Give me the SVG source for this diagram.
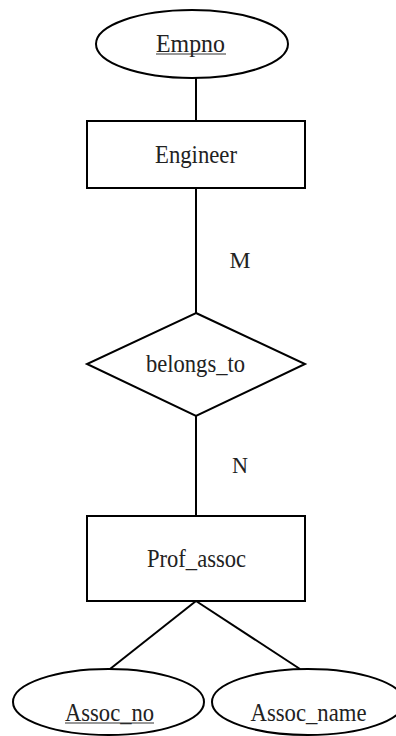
<svg xmlns="http://www.w3.org/2000/svg" width="396" height="736" viewBox="0 0 396 736">
  <style>
    .shape { fill: #ffffff; stroke: #000000; stroke-width: 2; }
    .link { fill: none; stroke: #000000; stroke-width: 2; }
    .label { font-family: "Liberation Serif", "Noto Sans CJK TC", serif; font-size: 25px; fill: #222222; text-anchor: middle; }
    .card { font-family: "Liberation Serif", "Noto Sans CJK TC", serif; font-size: 24px; fill: #222222; text-anchor: middle; }
    .key { stroke: #333333; stroke-width: 1.2; }
  </style>
  <rect width="396" height="736" fill="#ffffff"/>

  <!-- connectors -->
  <g id="connectors">
    <line class="link" x1="196" y1="78" x2="196" y2="121"/>
    <line class="link" x1="196" y1="188" x2="196" y2="313"/>
    <line class="link" x1="196" y1="416" x2="196" y2="516"/>
    <line class="link" x1="196" y1="601" x2="110" y2="669"/>
    <line class="link" x1="196" y1="601" x2="300" y2="669"/>
    <text class="card" x="240" y="268" textLength="21" lengthAdjust="spacingAndGlyphs">M</text>
    <text class="card" x="240" y="473" textLength="16" lengthAdjust="spacingAndGlyphs">N</text>
  </g>

  <!-- key attribute of Engineer -->
  <g id="empno">
    <ellipse class="shape" cx="192" cy="44" rx="96" ry="34"/>
    <text class="label" x="190.5" y="52" textLength="69" lengthAdjust="spacingAndGlyphs">Empno</text>
    <line class="key" x1="156" y1="54" x2="226" y2="54"/>
  </g>

  <!-- entity: Engineer -->
  <g id="engineer">
    <rect class="shape" x="87" y="121" width="218" height="67"/>
    <text class="label" x="196" y="163" textLength="82" lengthAdjust="spacingAndGlyphs">Engineer</text>
  </g>

  <!-- relationship -->
  <g id="belongs_to">
    <polygon class="shape" points="196,313 305,364 196,416 87,364"/>
    <text class="label" x="195.5" y="372" textLength="99" lengthAdjust="spacingAndGlyphs">belongs_to</text>
  </g>

  <!-- entity: Prof_assoc -->
  <g id="prof_assoc">
    <rect class="shape" x="87" y="516" width="218" height="85"/>
    <text class="label" x="196.5" y="567" textLength="99" lengthAdjust="spacingAndGlyphs">Prof_assoc</text>
  </g>

  <!-- key attribute of Prof_assoc -->
  <g id="assoc_no">
    <ellipse class="shape" cx="108.5" cy="702" rx="95.5" ry="33"/>
    <text class="label" x="109.5" y="721" textLength="89" lengthAdjust="spacingAndGlyphs">Assoc_no</text>
    <line class="key" x1="65" y1="723" x2="154" y2="723"/>
  </g>

  <!-- attribute of Prof_assoc -->
  <g id="assoc_name">
    <ellipse class="shape" cx="308" cy="702" rx="96" ry="33"/>
    <text class="label" x="308.5" y="721" textLength="116" lengthAdjust="spacingAndGlyphs">Assoc_name</text>
  </g>
</svg>
